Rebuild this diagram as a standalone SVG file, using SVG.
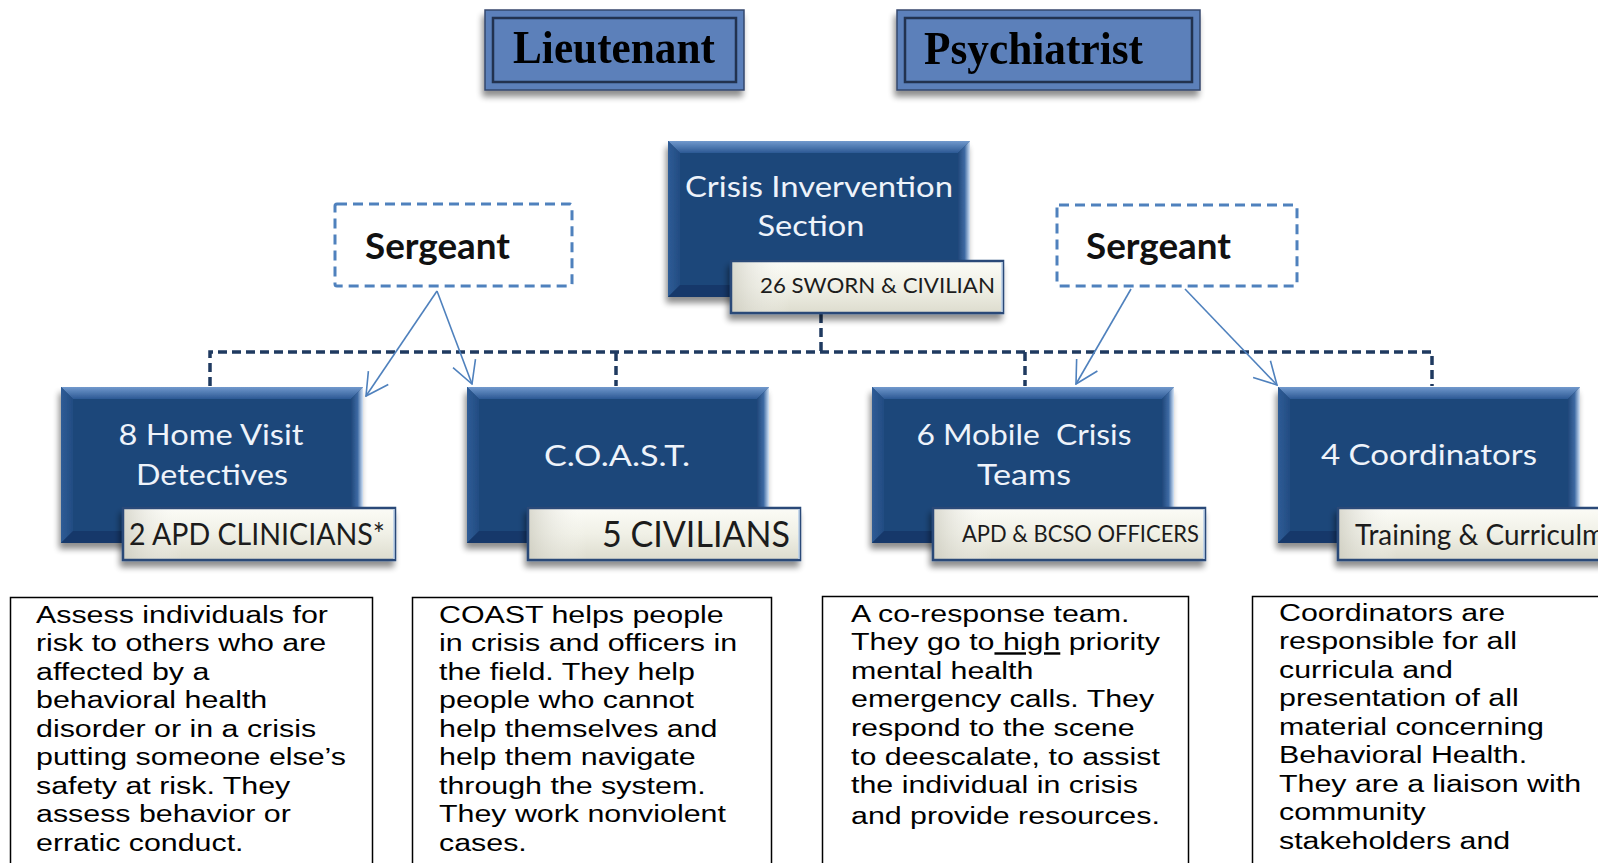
<svg xmlns="http://www.w3.org/2000/svg" width="1598" height="863" viewBox="0 0 1598 863">
  <defs>
    <style>
      .title { font-family: "Liberation Serif", "Times New Roman", serif; font-weight: bold; font-size: 46px; fill: #000; }
      .sgt { font-family: Lato, "Open Sans", sans-serif; font-weight: bold; font-size: 37px; fill: #111; }
      .unit { font-family: Lato, "Open Sans", sans-serif; font-size: 29px; fill: #eef3fa; text-anchor: middle; }
      .tag { font-family: Lato, "Open Sans", sans-serif; fill: #1c1c1c; }
      .desc { font-family: "Liberation Sans", Arial, sans-serif; font-size: 24.5px; fill: #000; }
      .descbox { fill: #fff; stroke: #000; stroke-width: 1.5; }
      .sgtbox { fill: #fff; stroke: #4f81bd; stroke-width: 3; stroke-dasharray: 10 6; }
      .topbox { fill: #5b80ba; stroke: #34486c; stroke-width: 1.5; }
      .topinner { fill: none; stroke: #22324f; stroke-width: 2.5; }
      .org { fill: none; stroke: #1f3a60; stroke-width: 3.5; stroke-dasharray: 9 5; }
      .sup { fill: none; stroke: #4f81bd; stroke-width: 1.6; marker-end: url(#vee); }
    </style>

    <linearGradient id="gTop" x1="0" y1="0" x2="0" y2="1">
      <stop offset="0" stop-color="#7199cd"/>
      <stop offset="1" stop-color="#2c5994"/>
    </linearGradient>
    <linearGradient id="gLeft" x1="0" y1="0" x2="1" y2="0">
      <stop offset="0" stop-color="#2f5c96"/>
      <stop offset="1" stop-color="#224c82"/>
    </linearGradient>
    <linearGradient id="gRight" x1="0" y1="0" x2="1" y2="0">
      <stop offset="0" stop-color="#1f477a"/>
      <stop offset="0.55" stop-color="#3e6aa3"/>
      <stop offset="1" stop-color="#d3e3f6"/>
    </linearGradient>
    <linearGradient id="gLabel" x1="0" y1="0" x2="0" y2="1">
      <stop offset="0" stop-color="#fcfcf7"/>
      <stop offset="0.5" stop-color="#f0f0e6"/>
      <stop offset="1" stop-color="#dcdbcd"/>
    </linearGradient>
    <linearGradient id="gLabelL" x1="0" y1="0" x2="1" y2="0">
      <stop offset="0" stop-color="#c9c8bb" stop-opacity="0.7"/>
      <stop offset="1" stop-color="#ffffff" stop-opacity="0"/>
    </linearGradient>

    <filter id="shadow" x="-10%" y="-10%" width="125%" height="135%">
      <feGaussianBlur in="SourceAlpha" stdDeviation="3"/>
      <feOffset dx="-2" dy="6" result="off"/>
      <feComponentTransfer><feFuncA type="linear" slope="0.45"/></feComponentTransfer>
      <feMerge><feMergeNode/><feMergeNode in="SourceGraphic"/></feMerge>
    </filter>

    <marker id="vee" viewBox="0 0 24 26" refX="23" refY="13" markerWidth="24" markerHeight="26" markerUnits="userSpaceOnUse" orient="auto">
      <path d="M1,1 L23,13 L1,25" fill="none" stroke="#4f81bd" stroke-width="1.6"/>
    </marker>

    <!-- bevelled dark unit box, 302 x 156 -->
    <g id="bevel">
      <rect width="302" height="156" fill="#1f477a"/>
      <polygon points="0,0 302,0 290,12 12,12" fill="url(#gTop)"/>
      <polygon points="0,0 12,12 12,144 0,156" fill="url(#gLeft)"/>
      <polygon points="302,0 302,156 290,144 290,12" fill="url(#gRight)"/>
      <polygon points="0,156 12,144 290,144 302,156" fill="#17396a"/>
    </g>

    <!-- cream caption tab, 274 x 54 -->
    <g id="tab">
      <rect x="0" y="0" width="274" height="54" fill="url(#gLabel)"/>
      <rect x="0" y="0" width="60" height="54" fill="url(#gLabelL)"/>
      <rect x="1" y="1" width="272" height="52" fill="none" stroke="#2b4a78" stroke-width="2.5"/>
      <line x1="272" y1="2" x2="272" y2="52" stroke="#c9dcf2" stroke-width="1.5"/>
    </g>
  </defs>

  <rect width="1598" height="863" fill="#ffffff"/>

  <!-- reporting lines -->
  <g id="connectors">
    <path class="org" d="M210,386 V352 H1432 V386"/>
    <path class="org" d="M616,352 V386"/>
    <path class="org" d="M1025,352 V386"/>
    <path class="org" d="M821,314 V352" stroke-width="5.5"/>
    <path class="sup" d="M437,291 L366,396"/>
    <path class="sup" d="M437,291 L472,384"/>
    <path class="sup" d="M1131,289 L1076,384"/>
    <path class="sup" d="M1185,289 L1277,385"/>
  </g>

  <!-- top row -->
  <g id="lieutenant" filter="url(#shadow)">
    <rect class="topbox" x="485" y="10" width="259" height="80"/>
    <rect class="topinner" x="493" y="18" width="243" height="64"/>
    <text class="title" x="614" y="63" text-anchor="middle" textLength="202" lengthAdjust="spacingAndGlyphs">Lieutenant</text>
  </g>
  <g id="psychiatrist" filter="url(#shadow)">
    <rect class="topbox" x="897" y="10" width="303" height="80"/>
    <rect class="topinner" x="905" y="18" width="287" height="64"/>
    <text class="title" x="924" y="64" textLength="219" lengthAdjust="spacingAndGlyphs">Psychiatrist</text>
  </g>

  <!-- section head -->
  <g id="section">
    <use href="#bevel" x="668" y="141" filter="url(#shadow)"/>
    <text class="unit" x="819" y="197" textLength="268" lengthAdjust="spacingAndGlyphs">Crisis Invervention</text>
    <text class="unit" x="811" y="236" textLength="107" lengthAdjust="spacingAndGlyphs">Section</text>
    <use href="#tab" x="730" y="260" filter="url(#shadow)"/>
    <text class="tag" x="760" y="293" font-size="22" textLength="235" lengthAdjust="spacingAndGlyphs">26 SWORN &amp; CIVILIAN</text>
  </g>

  <!-- sergeants -->
  <g id="sergeant-left">
    <rect class="sgtbox" x="335" y="204" width="237" height="82" rx="2"/>
    <text class="sgt" x="365" y="259" textLength="145" lengthAdjust="spacingAndGlyphs">Sergeant</text>
  </g>
  <g id="sergeant-right">
    <rect class="sgtbox" x="1057" y="205" width="240" height="81" rx="2"/>
    <text class="sgt" x="1086" y="259" textLength="145" lengthAdjust="spacingAndGlyphs">Sergeant</text>
  </g>

  <!-- units -->
  <g id="home-visit">
    <use href="#bevel" x="61" y="387" filter="url(#shadow)"/>
    <text class="unit" x="211" y="445" textLength="185" lengthAdjust="spacingAndGlyphs">8 Home Visit</text>
    <text class="unit" x="212" y="485" textLength="152" lengthAdjust="spacingAndGlyphs">Detectives</text>
    <use href="#tab" x="122" y="507" filter="url(#shadow)"/>
    <text class="tag" x="129" y="545" font-size="30" textLength="256" lengthAdjust="spacingAndGlyphs">2 APD CLINICIANS*</text>
  </g>
  <g id="coast">
    <use href="#bevel" x="467" y="387" filter="url(#shadow)"/>
    <text class="unit" x="617" y="466" textLength="146" lengthAdjust="spacingAndGlyphs">C.O.A.S.T.</text>
    <use href="#tab" x="527" y="507" filter="url(#shadow)"/>
    <text class="tag" x="602" y="547" font-size="36" textLength="188" lengthAdjust="spacingAndGlyphs">5 CIVILIANS</text>
  </g>
  <g id="mobile-crisis">
    <use href="#bevel" x="872" y="387" filter="url(#shadow)"/>
    <text class="unit" x="1024" y="445" textLength="215" lengthAdjust="spacingAndGlyphs" xml:space="preserve">6 Mobile  Crisis</text>
    <text class="unit" x="1024" y="485" textLength="94" lengthAdjust="spacingAndGlyphs">Teams</text>
    <use href="#tab" x="932" y="507" filter="url(#shadow)"/>
    <text class="tag" x="962" y="542" font-size="23" textLength="237" lengthAdjust="spacingAndGlyphs">APD &amp; BCSO OFFICERS</text>
  </g>
  <g id="coordinators">
    <use href="#bevel" x="1278" y="387" filter="url(#shadow)"/>
    <text class="unit" x="1429" y="465" textLength="216" lengthAdjust="spacingAndGlyphs">4 Coordinators</text>
    <use href="#tab" x="1337" y="507" filter="url(#shadow)"/>
    <text class="tag" x="1355" y="545" font-size="28" textLength="250" lengthAdjust="spacingAndGlyphs">Training &amp; Curriculm</text>
  </g>

  <!-- descriptions -->
  <g id="desc-home-visit">
    <rect class="descbox" x="10.5" y="597.5" width="362" height="290"/>
    <g transform="matrix(1.24 0 0 1 36 0)">
      <text class="desc">
        <tspan x="0" y="623">Assess individuals for</tspan>
        <tspan x="0" y="651.5">risk to others who are</tspan>
        <tspan x="0" y="680">affected by a</tspan>
        <tspan x="0" y="708.5">behavioral health</tspan>
        <tspan x="0" y="737">disorder or in a crisis</tspan>
        <tspan x="0" y="765.5">putting someone else’s</tspan>
        <tspan x="0" y="794">safety at risk. They</tspan>
        <tspan x="0" y="822.5">assess behavior or</tspan>
        <tspan x="0" y="851">erratic conduct.</tspan>
      </text>
    </g>
  </g>
  <g id="desc-coast">
    <rect class="descbox" x="412.5" y="597.5" width="359" height="290"/>
    <g transform="matrix(1.24 0 0 1 439 0)">
      <text class="desc">
        <tspan x="0" y="623">COAST helps people</tspan>
        <tspan x="0" y="651.5">in crisis and officers in</tspan>
        <tspan x="0" y="680">the field. They help</tspan>
        <tspan x="0" y="708.5">people who cannot</tspan>
        <tspan x="0" y="737">help themselves and</tspan>
        <tspan x="0" y="765.5">help them navigate</tspan>
        <tspan x="0" y="794">through the system.</tspan>
        <tspan x="0" y="822.5">They work nonviolent</tspan>
        <tspan x="0" y="851">cases.</tspan>
      </text>
    </g>
  </g>
  <g id="desc-mobile-crisis">
    <rect class="descbox" x="822.5" y="596.5" width="366" height="290"/>
    <g transform="matrix(1.24 0 0 1 851 0)">
      <text class="desc">
        <tspan x="0" y="622">A co-response team.</tspan>
        <tspan x="0" y="650.5">They go to<tspan text-decoration="underline" xml:space="preserve"> high</tspan> priority</tspan>
        <tspan x="0" y="679">mental health</tspan>
        <tspan x="0" y="707.5">emergency calls. They</tspan>
        <tspan x="0" y="736">respond to the scene</tspan>
        <tspan x="0" y="764.5">to deescalate, to assist</tspan>
        <tspan x="0" y="793">the individual in crisis</tspan>
        <tspan x="0" y="824">and provide resources.</tspan>
      </text>
    </g>
  </g>
  <g id="desc-coordinators">
    <rect class="descbox" x="1252.5" y="596.5" width="380" height="290"/>
    <g transform="matrix(1.24 0 0 1 1279 0)">
      <text class="desc">
        <tspan x="0" y="621">Coordinators are</tspan>
        <tspan x="0" y="649.5">responsible for all</tspan>
        <tspan x="0" y="678">curricula and</tspan>
        <tspan x="0" y="706.5">presentation of all</tspan>
        <tspan x="0" y="735">material concerning</tspan>
        <tspan x="0" y="763.5">Behavioral Health.</tspan>
        <tspan x="0" y="792">They are a liaison with</tspan>
        <tspan x="0" y="820.5">community</tspan>
        <tspan x="0" y="849">stakeholders and</tspan>
      </text>
    </g>
  </g>
</svg>
